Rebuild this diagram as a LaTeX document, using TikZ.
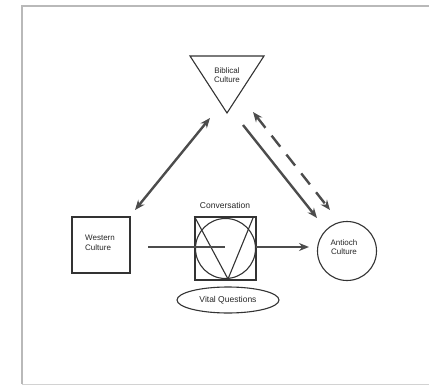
\documentclass[tikz,border=0pt]{standalone}
\usepackage{fontspec}
\setmainfont{Liberation Sans}
\usetikzlibrary{arrows.meta,shapes.geometric}
\begin{document}
\begin{tikzpicture}[x=1pt,y=-1pt,
  ink/.style={draw=black!80, line width=1.1pt},
  lbl/.style={font=\fontsize{8}{9.5}\selectfont, align=center, text=black!85, inner sep=0pt},
  conn/.style={draw=black!70, line width=2.4pt},
  thin conn/.style={draw=black!70, line width=1.8pt},
  tipend/.style={-{Stealth[length=10pt,width=8pt]}},
  tipboth/.style={{Stealth[length=10pt,width=8pt]}-{Stealth[length=10pt,width=8pt]}},
  frameline/.style={draw=gray!55, line width=1.6pt}
]
\useasboundingbox (0,0) rectangle (429,388);
% frame
\draw[frameline] (429,6) -- (22,6) -- (22,384);
\draw[draw=gray!35, line width=1pt] (22,384) -- (429,384);

% Biblical Culture (inverted triangle)
\coordinate (tl) at (190,56);
\coordinate (tr) at (264,56);
\coordinate (tb) at (227,113);
\draw[ink] (tl) -- (tr) -- (tb) -- cycle;
\node[lbl] (bib) at (227,75) {Biblical\\Culture};

% Western Culture
\node[ink, draw, minimum width=58pt, minimum height=56pt, inner sep=0pt] (west) at (101,245) {};
\node[lbl, align=left] (westtxt) at (100,243) {Western\\Culture};

% Conversation
\node[ink, draw, minimum width=61pt, minimum height=63pt, inner sep=0pt] (conv) at (225.5,248.5) {};
\node[ink, draw, circle, minimum size=60pt, inner sep=0pt] (convc) at (conv.center) {};
\coordinate (vtip) at (228,279);
\coordinate (vright) at (253,218);
\draw[ink] (conv.north west) -- (vtip) -- (vright);
\node[lbl, font=\fontsize{8.5}{10}\selectfont] (convlbl) at (225,205) {Conversation};

% Vital Questions
\node[ink, draw, ellipse, minimum width=102pt, minimum height=26pt, inner sep=0pt,
      font=\fontsize{8.5}{10}\selectfont, text=black!85] (vq) at (228,300) {Vital Questions};

% Antioch Culture
\node[ink, draw, circle, minimum size=59pt, inner sep=0pt] (ant) at (347,251) {};
\node[lbl] (anttxt) at (344,247) {Antioch\\Culture};

% connectors
\coordinate (wb1) at (135,210);
\coordinate (wb2) at (210,118);
\draw[conn, tipboth] (wb1) -- (wb2);

\coordinate (ba1) at (243,125);
\coordinate (ba2) at (317,218);
\draw[conn, tipend] (ba1) -- (ba2);

\coordinate (da1) at (253,112);
\coordinate (da2) at (330,210);
\draw[conn, tipboth, dash pattern=on 14pt off 10pt] (da1) -- (da2);

\coordinate (h1) at (148,247);
\coordinate (h2) at (225,247);
\draw[thin conn] (h1) -- (h2);
\coordinate (h3) at (256,247);
\coordinate (h4) at (309,247);
\draw[thin conn, tipend] (h3) -- (h4);
\end{tikzpicture}
\end{document}
